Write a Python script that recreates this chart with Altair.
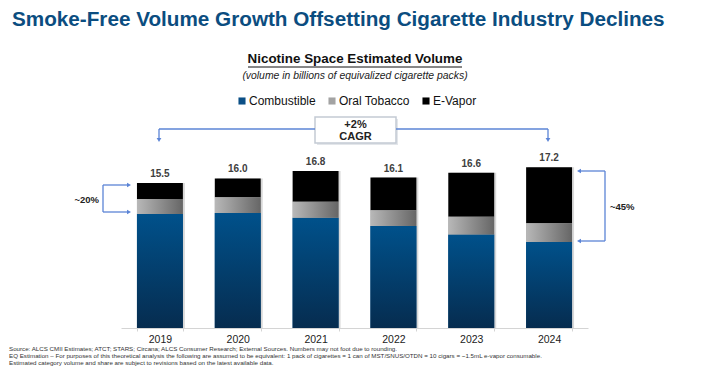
import altair as alt
import pandas as pd

years = ["2019", "2020", "2021", "2022", "2023", "2024"]
combustible = [12.2, 12.3, 11.8, 10.9, 10.0, 9.2]
oral_tobacco = [1.6, 1.7, 1.7, 1.7, 1.9, 2.0]
e_vapor = [1.7, 2.0, 3.3, 3.5, 4.7, 6.0]
totals = [15.5, 16.0, 16.8, 16.1, 16.6, 17.2]
categories = ["Combustible", "Oral Tobacco", "E-Vapor"]
cat_colors = ["#0b4f86", "#a3a3a3", "#000000"]

title_text = "Smoke-Free Volume Growth Offsetting Cigarette Industry Declines"
chart_title = "Nicotine Space Estimated Volume"
chart_subtitle = "(volume in billions of equivalized cigarette packs)"
cagr_text = ["+2%", "CAGR"]
left_share = "~20%"
right_share = "~45%"
footnotes = [
    "Source: ALCS CMII Estimates; ATCT; STARS; Circana; ALCS Consumer Research; External Sources. Numbers may not foot due to rounding.",
    "EQ Estimation \u2013 For purposes of this theoretical analysis the following are assumed to be equivalent: 1 pack of cigarettes = 1 can of MST/SNUS/OTDN = 10 cigars = ~1.5mL e-vapor consumable.",
    "Estimated category volume and share are subject to revisions based on the latest available data.",
]

REG = "Liberation Sans, Arial, sans-serif"
BLUE_LINE = "#5b84d6"

rows = []
for i, yr in enumerate(years):
    base = 0.0
    for cat, vals in zip(categories, [combustible, oral_tobacco, e_vapor]):
        rows.append({"year": yr, "cat": cat, "y0": base, "y1": base + vals[i]})
        base += vals[i]
seg = pd.DataFrame(rows)
tot = pd.DataFrame({
    "year": years,
    "total": totals,
    "top": [c + o + v for c, o, v in zip(combustible, oral_tobacco, e_vapor)],
})

W, H = 467, 215
xenc = alt.X("year:N", sort=years,
             scale=alt.Scale(paddingInner=0.41, paddingOuter=0.205),
             axis=alt.Axis(title=None, labelAngle=0, labelFont=REG, labelFontSize=10.5,
                           labelColor="#222222", domainColor="#d4d4d4", tickColor="#d4d4d4",
                           tickSize=3, tickBand="extent", labelPadding=3, grid=False))
yscale = alt.Scale(domain=[0, 23], nice=False, zero=True)

shadow = alt.Chart(tot).mark_bar(color="#c8c8c8", xOffset=2, opacity=0.7).encode(
    x=xenc, y=alt.Y("top:Q", scale=yscale, axis=None), y2=alt.value(H)
)

base_bars = alt.Chart(seg).mark_bar().encode(
    x=xenc,
    y=alt.Y("y0:Q", scale=yscale, axis=None),
    y2="y1:Q",
    color=alt.Color("cat:N", scale=alt.Scale(domain=categories, range=cat_colors),
                    legend=alt.Legend(title=None, orient="none", direction="horizontal",
                                      legendX=115, legendY=-18, symbolType="square",
                                      symbolSize=50, symbolStrokeWidth=0,
                                      labelFont=REG, labelFontSize=12, labelColor="#111111",
                                      columnPadding=10, labelOffset=1, padding=0)),
)

grad_comb = alt.Gradient(gradient="linear",
                         stops=[alt.GradientStop(color="#00518b", offset=0),
                                alt.GradientStop(color="#062c4f", offset=1)],
                         x1=0, x2=0, y1=0, y2=1)
grad_oral = alt.Gradient(gradient="linear",
                         stops=[alt.GradientStop(color="#b8b8b8", offset=0),
                                alt.GradientStop(color="#666666", offset=1)],
                         x1=0, x2=1, y1=0, y2=0)

comb_bars = alt.Chart(seg).transform_filter(alt.datum.cat == "Combustible").mark_bar(color=grad_comb).encode(
    x=xenc, y=alt.Y("y0:Q", scale=yscale, axis=None), y2="y1:Q")
oral_bars = alt.Chart(seg).transform_filter(alt.datum.cat == "Oral Tobacco").mark_bar(color=grad_oral).encode(
    x=xenc, y=alt.Y("y0:Q", scale=yscale, axis=None), y2="y1:Q")

value_labels = alt.Chart(tot).mark_text(baseline="bottom", dy=-4, font=REG, fontWeight="bold",
                                        fontSize=10, color="#404040").encode(
    x=xenc, y=alt.Y("top:Q", scale=yscale, axis=None), text=alt.Text("total:Q", format=".1f"))

one = pd.DataFrame({"k": [0]})


def txt(t, x, y, **kw):
    return alt.Chart(pd.DataFrame({"t": [t]})).mark_text(**kw).encode(
        x=alt.value(x), y=alt.value(y), text="t:N")


def rule(x, x2, y, y2, color=BLUE_LINE, width=1.3):
    return alt.Chart(one).mark_rule(color=color, strokeWidth=width).encode(
        x=alt.value(x), x2=alt.value(x2), y=alt.value(y), y2=alt.value(y2))


def arrow(x, y, shape):
    return alt.Chart(one).mark_point(shape=shape, filled=True, size=22, color=BLUE_LINE, opacity=1).encode(
        x=alt.value(x), y=alt.value(y))


title_layer = txt(title_text, -109, -93, align="left", baseline="middle", font=REG,
                  fontWeight="bold", fontSize=20.7, color="#0b4d80")
sub1 = txt(chart_title, 234, -54, align="center", baseline="middle", font=REG,
           fontWeight="bold", fontSize=13.4, color="#111111")
underline = rule(127, 341, -46, -46, color="#111111", width=1)
sub2 = txt(chart_subtitle, 234, -37, align="center", baseline="middle", font=REG,
           fontStyle="italic", fontSize=10.4, color="#222222")

cagr_shadow = alt.Chart(one).mark_rect(fill="#e3e6ea").encode(
    x=alt.value(196), x2=alt.value(277), y=alt.value(6), y2=alt.value(32))
cagr_box = alt.Chart(one).mark_rect(fill="white", stroke="#c3cad4", strokeWidth=1.5).encode(
    x=alt.value(194), x2=alt.value(275), y=alt.value(4), y2=alt.value(30))
cagr1 = txt(cagr_text[0], 234.5, 12, align="center", baseline="middle", font=REG,
            fontWeight="bold", fontSize=11, color="#222222")
cagr2 = txt(cagr_text[1], 234.5, 23.5, align="center", baseline="middle", font=REG,
            fontWeight="bold", fontSize=11, color="#222222")

lines = [
    rule(38, 194, 16, 16), rule(38, 38, 16, 26), arrow(38, 27, "triangle-down"),
    rule(275, 427, 16, 16), rule(427, 427, 16, 26), arrow(427, 27, "triangle-down"),
    rule(-18, -18, 72, 99), rule(-18, 7, 72, 72), rule(-18, 7, 99, 99),
    arrow(8, 72, "triangle-right"), arrow(8, 99, "triangle-right"),
    rule(484, 484, 58, 128), rule(459, 484, 58, 58), rule(459, 484, 128, 128),
    arrow(458, 58, "triangle-left"), arrow(458, 128, "triangle-left"),
]
lbl_left = txt(left_share, -22, 87, align="right", baseline="middle", font=REG,
               fontWeight="bold", fontSize=9.5, color="#222222")
lbl_right = txt(right_share, 489, 94, align="left", baseline="middle", font=REG,
                fontWeight="bold", fontSize=9.5, color="#222222")

foot = alt.Chart(pd.DataFrame({"t": ["\n".join(footnotes)]})).mark_text(
    align="left", baseline="middle", font=REG, fontSize=6.2, color="#333333",
    lineBreak="\n", lineHeight=7).encode(x=alt.value(-112), y=alt.value(236), text="t:N")

chart = alt.layer(
    shadow, base_bars, comb_bars, oral_bars, value_labels,
    title_layer, sub1, underline, sub2,
    cagr_shadow, cagr_box, cagr1, cagr2,
    *lines, lbl_left, lbl_right, foot,
).properties(
    width=W, height=H,
    autosize=alt.AutoSizeParams(type="none"),
    padding={"left": 113, "top": 105, "right": 114, "bottom": 38},
).configure(background="white", view=alt.ViewConfig(stroke=None))

chart.save("out.html", embed_options={"renderer": "svg", "actions": False})
